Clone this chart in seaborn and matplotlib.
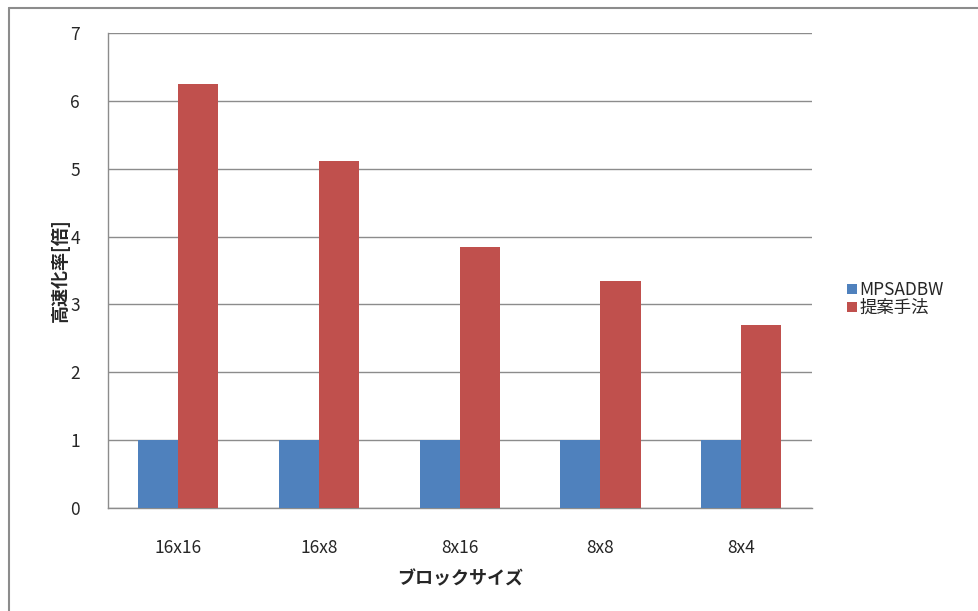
import matplotlib
matplotlib.use('Agg')
import pandas as pd
import seaborn as sns
from matplotlib import pyplot as plt
from matplotlib.lines import Line2D

block_sizes = ['16x16', '16x8', '8x16', '8x8', '8x4']
mpsadbw = [1, 1, 1, 1, 1]
proposed = [6.25, 5.12, 3.84, 3.34, 2.70]
series_names = ['MPSADBW', '提案手法']
y_ticks = [0, 1, 2, 3, 4, 5, 6, 7]

df = pd.DataFrame({
    'block': block_sizes * 2,
    'speedup': mpsadbw + proposed,
    'method': [series_names[0]] * 5 + [series_names[1]] * 5,
})

sns.set_style('white')
plt.rcParams['font.family'] = ['Noto Sans CJK JP', 'DejaVu Sans']

fig = plt.figure(figsize=(9.79, 6.11), dpi=100)
ax = fig.add_axes([0.110, 0.1686, 0.719, 0.7774])

sns.barplot(data=df, x='block', y='speedup', hue='method',
            palette=['#4F81BD', '#C0504D'], width=0.57, gap=0,
            saturation=1, linewidth=0, ax=ax, zorder=3)

ax.set_ylim(0, 7)
ax.set_xlim(-0.5, 4.5)
ax.set_yticks(y_ticks)
ax.yaxis.grid(True, color='#8c8c8c', linewidth=1, zorder=0)
ax.set_axisbelow(True)

for s in ['top', 'right']:
    ax.spines[s].set_visible(False)
for s in ['left', 'bottom']:
    ax.spines[s].set_color('#8c8c8c')
    ax.spines[s].set_linewidth(1)

ax.set_xticks([i - 0.5 for i in range(6)], minor=True)
ax.tick_params(axis='x', which='major', length=0, pad=22, labelsize=12.5)
ax.tick_params(axis='x', which='minor', length=5, color='#8c8c8c', direction='out')
ax.tick_params(axis='y', length=5, color='#8c8c8c', direction='out', labelsize=12.5, pad=15)

ax.set_xlabel('ブロックサイズ', fontsize=13, fontweight='bold', labelpad=9)
ax.set_ylabel('高速化率[倍]', fontsize=13, fontweight='bold', labelpad=0)

handles, labels = ax.get_legend_handles_labels()
ax.legend(handles, labels, loc='center left', bbox_to_anchor=(1.051, 0.44),
          frameon=False, fontsize=12.5, handlelength=0.55, handleheight=0.55,
          handletextpad=0.15, labelspacing=0.0, borderpad=0, borderaxespad=0)

# outer chart frame (left and top edges visible in the screenshot)
fig.add_artist(Line2D([9 / 979, 9 / 979], [0, 1 - 8 / 611], color='#8c8c8c', lw=1.5))
fig.add_artist(Line2D([9 / 979, 1], [1 - 8 / 611, 1 - 8 / 611], color='#8c8c8c', lw=1.5))

fig.savefig('out.png', dpi=100)
